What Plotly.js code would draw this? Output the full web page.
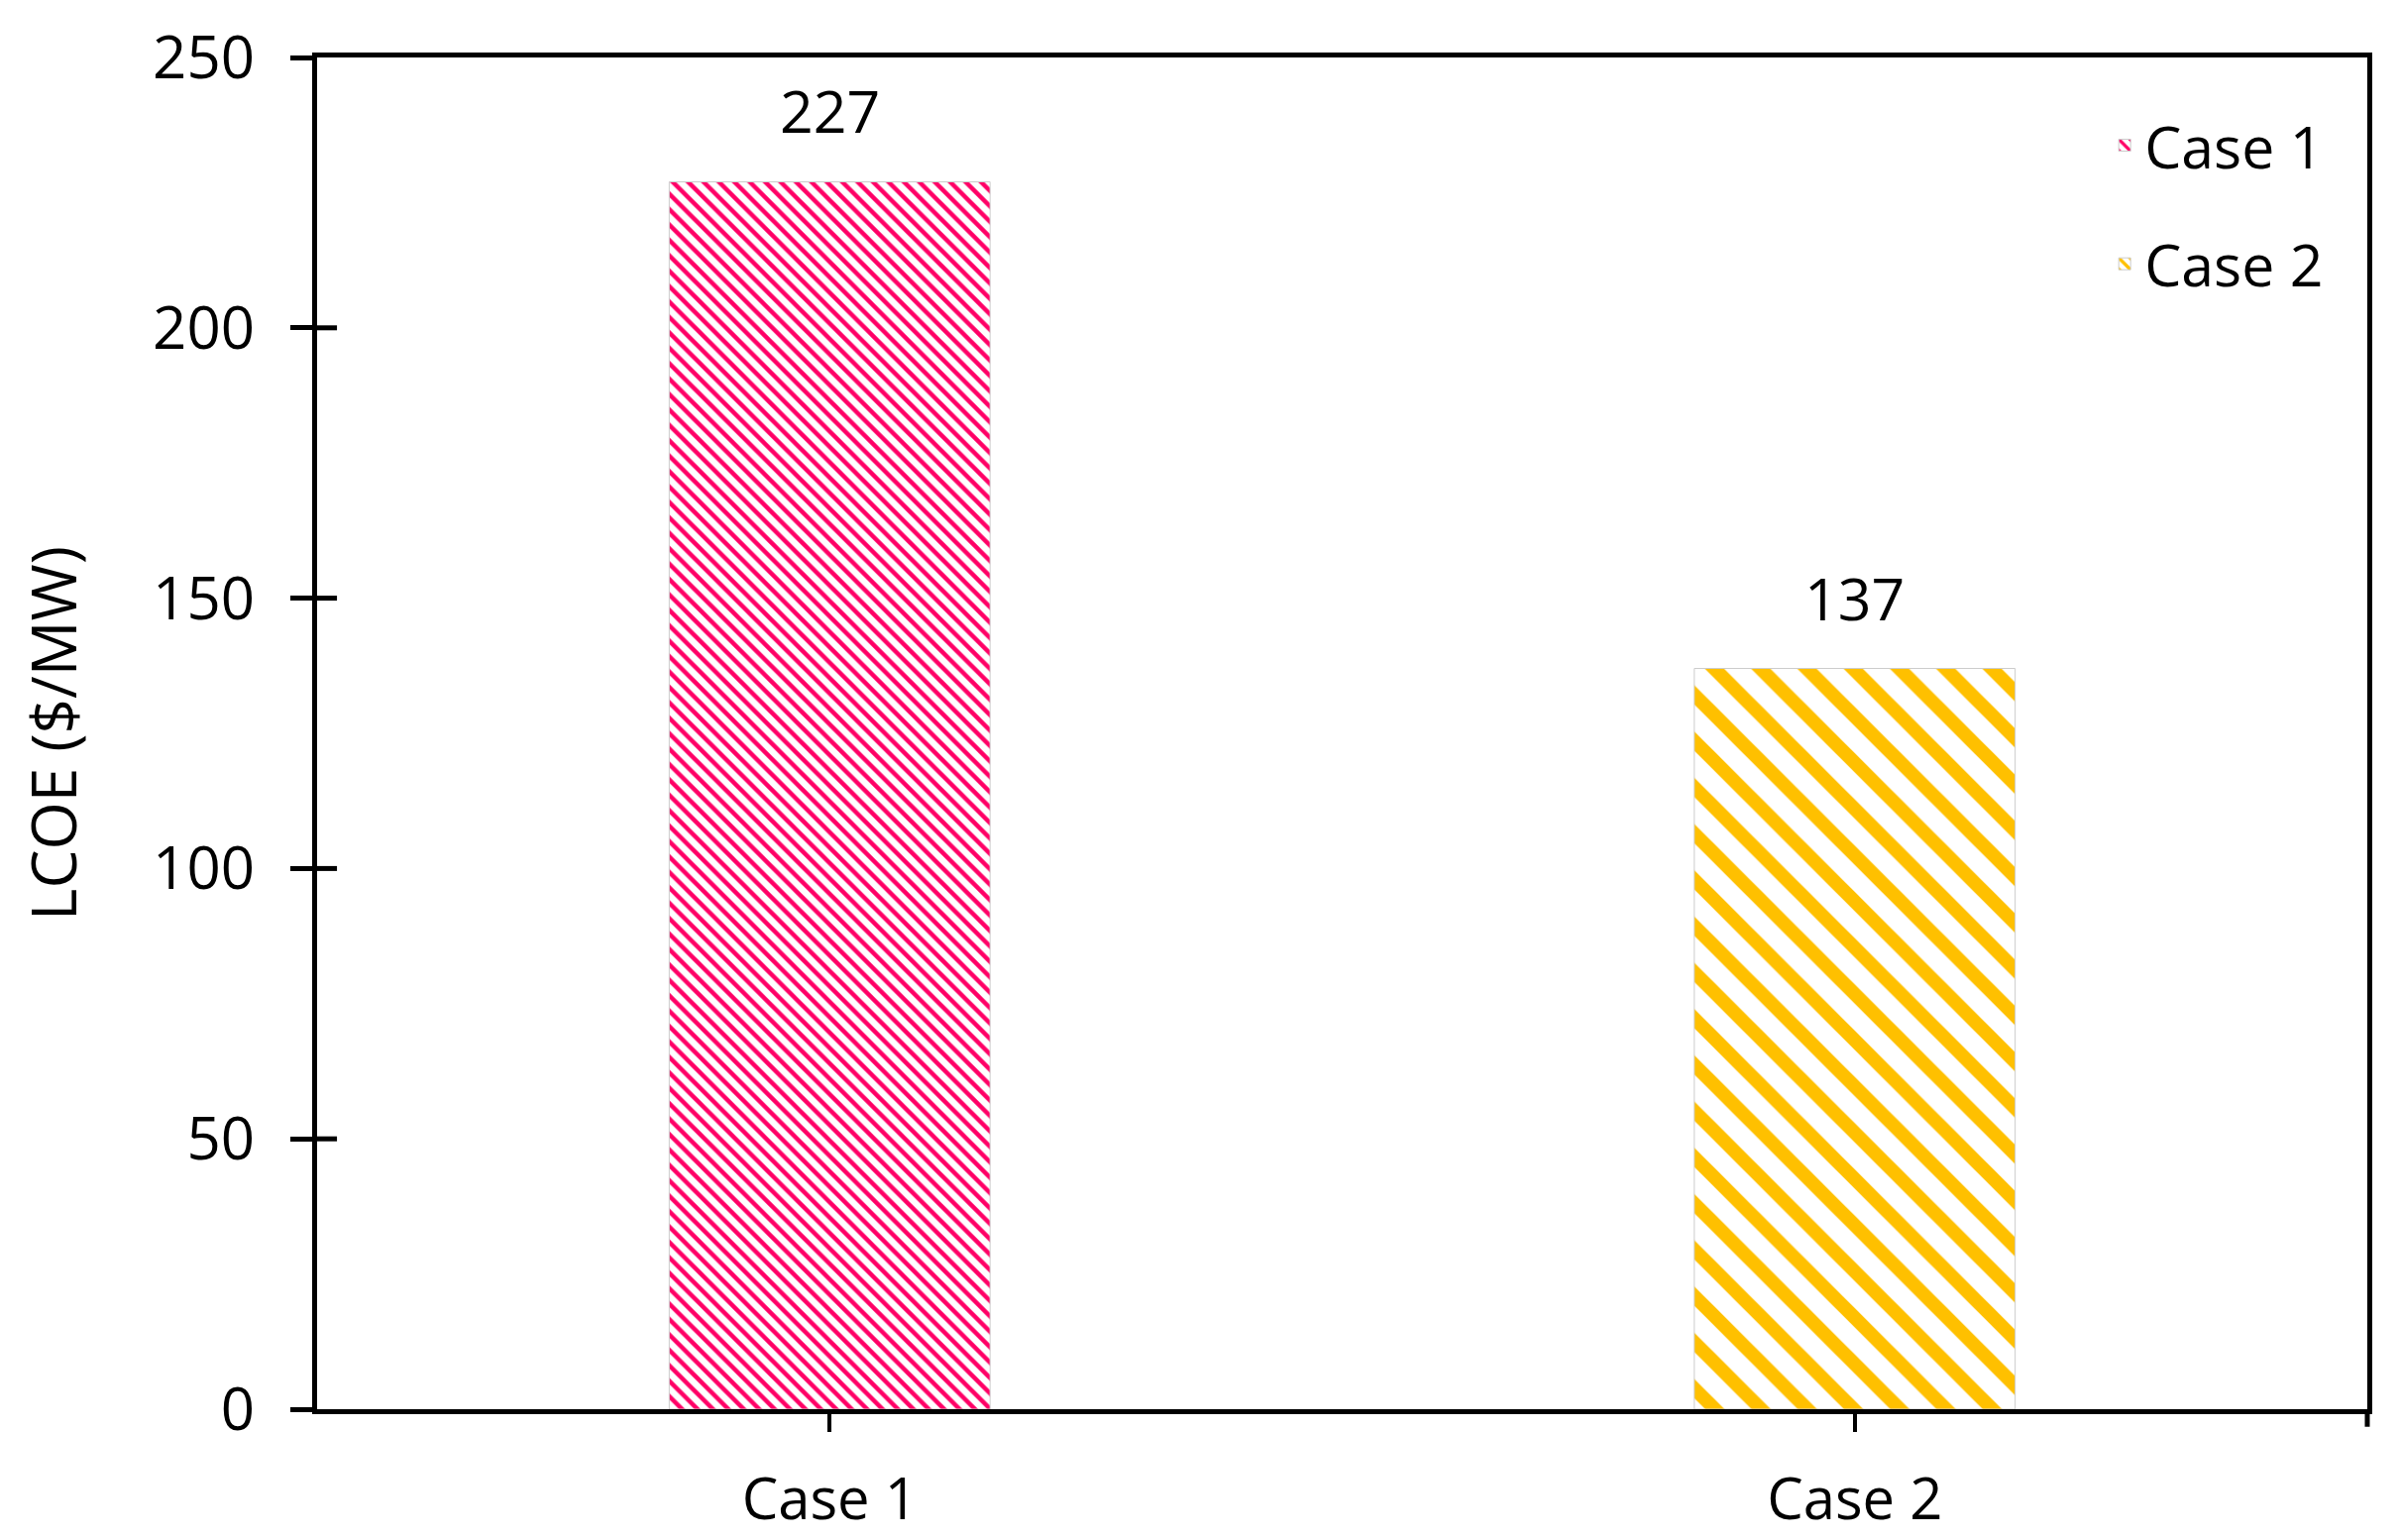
<!DOCTYPE html>
<html>
<head>
<meta charset="utf-8">
<script src="https://cdn.plot.ly/plotly-3.0.1.min.js"></script>
<style>
  html, body { margin: 0; padding: 0; background: #fff; }
  #chart { width: 2421px; height: 1554px; }
</style>
</head>
<body>
<div id="chart"></div>
<script>
const cases = ['Case 1', 'Case 2'];
const lcoe = [227, 137];
const yTicks = [0, 50, 100, 150, 200, 250];
const fgColors = ['#FF0066', '#FFC000'];
const patternSizes = [11, 33];
const patternSolidity = [0.4, 0.42];

const FONT = 'Open Sans, Noto Sans, sans-serif';

const data = cases.map((c, i) => ({
  type: 'bar',
  name: c,
  x: [c],
  y: [lcoe[i]],
  width: 0.313,
  legendgroup: 'g' + i,
  hoverinfo: 'skip',
  marker: {
    color: '#ffffff',
    line: {color: '#cccccc', width: 1},
    pattern: {
      shape: '\\',
      fgcolor: fgColors[i],
      bgcolor: '#ffffff',
      size: patternSizes[i],
      solidity: patternSolidity[i],
      fillmode: 'replace'
    }
  }
}));

const annotations = cases.map((c, i) => ({
  x: c, y: lcoe[i], xref: 'x', yref: 'y',
  text: String(lcoe[i]),
  showarrow: false,
  yanchor: 'bottom',
  yshift: 30,
  font: {family: FONT, size: 59, color: '#000'}
}));

// inner half of the crossing y ticks
const innerTicks = yTicks.slice(1, -1).map(v => ({
  type: 'line', xref: 'paper', yref: 'y',
  x0: 0, x1: 0.0097, y0: v, y1: v,
  line: {color: '#000', width: 5}
}));

const layout = {
  width: 2421,
  height: 1554,
  margin: {l: 320, r: 32, t: 58, b: 132},
  paper_bgcolor: '#fff',
  plot_bgcolor: '#fff',
  barmode: 'overlay',
  font: {family: FONT, size: 58, color: '#000'},
  showlegend: true,
  legend: {
    x: 0.872, y: 0.968, xanchor: 'left', yanchor: 'top',
    font: {family: FONT, size: 59, color: '#000'},
    tracegroupgap: 40,
    traceorder: 'grouped',
    bgcolor: 'rgba(0,0,0,0)'
  },
  xaxis: {
    type: 'category',
    range: [-0.5, 1.5],
    showline: true, linewidth: 5, linecolor: '#000', mirror: true,
    ticks: 'outside', ticklen: 18, tickwidth: 4, tickcolor: '#000',
    ticklabelstandoff: 18,
    showgrid: false, zeroline: false,
    tickfont: {family: FONT, size: 58}
  },
  yaxis: {
    range: [0, 250], tickvals: yTicks,
    showline: true, linewidth: 5, linecolor: '#000', mirror: true,
    ticks: 'outside', ticklen: 22, tickwidth: 5, tickcolor: '#000',
    ticklabelstandoff: 24,
    showgrid: false, zeroline: false,
    tickfont: {family: FONT, size: 60},
    title: {text: 'LCOE ($/MW)', font: {family: FONT, size: 62}, standoff: 58}
  },
  annotations: annotations,
  shapes: innerTicks.concat([{
    type: 'line', xref: 'paper', yref: 'paper',
    x0: 1, x1: 1, y0: 0, y1: -0.013,
    line: {color: '#000', width: 5}
  }])
};

Plotly.newPlot('chart', data, layout, {displayModeBar: false, staticPlot: true});
</script>
</body>
</html>
